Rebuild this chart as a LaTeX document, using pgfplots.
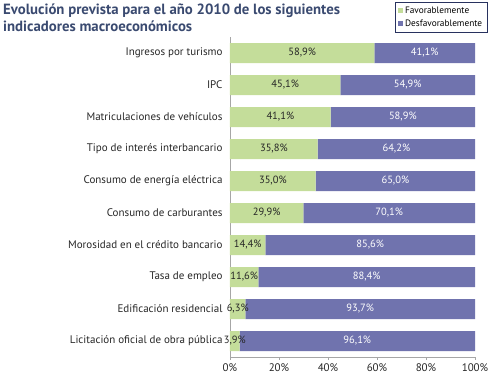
\documentclass[border=0pt]{standalone}
\usepackage{fontspec}
\setmainfont{PT Sans}
\usepackage{pgfplots}
\usepackage{pgfplotstable}
\pgfplotsset{compat=1.18}
\definecolor{favc}{RGB}{196,221,154}
\definecolor{desc}{RGB}{112,115,174}
\definecolor{titc}{RGB}{58,74,112}
\definecolor{legb}{RGB}{40,50,95}
\pgfplotstableread{
cat fav desf
0 58.9 41.1
1 45.1 54.9
2 41.1 58.9
3 35.8 64.2
4 35.0 65.0
5 29.9 70.1
6 14.4 85.6
7 11.6 88.4
8 6.3 93.7
9 3.9 96.1
}\data
\begin{document}
\begin{tikzpicture}
\useasboundingbox (-230bp,-30bp) rectangle (265bp,357bp);
\node[anchor=north west, align=left, text=titc, font=\fontsize{14.8bp}{17bp}\selectfont\bfseries, inner sep=0pt] at (-227bp,353bp)
{Evolución prevista para el año 2010 de los siguientes\\indicadores macroeconómicos};
\begin{axis}[
  at={(0,0)}, anchor=south west,
  scale only axis, width=245bp, height=320bp,
  xbar stacked, bar width=20bp,
  xmin=0, xmax=100, ymin=-0.5, ymax=9.5, y dir=reverse,
  axis x line*=bottom, axis y line*=left,
  axis line style={gray!70},
  /pgf/number format/assume math mode=true,
  ytick={0,...,9},
  yticklabels={Ingresos por turismo, IPC, Matriculaciones de vehículos, Tipo de interés interbancario, Consumo de energía eléctrica, Consumo de carburantes, Morosidad en el crédito bancario, Tasa de empleo, Edificación residencial, Licitación oficial de obra pública},
  yticklabel style={font=\fontsize{11bp}{13bp}\selectfont, text=black!85, xshift=-1bp},
  major y tick style={draw=none},
  extra y ticks={-0.5,0.5,...,9.5},
  extra y tick labels={},
  extra y tick style={major tick style={draw=gray!70}, major tick length=4bp},
  xtick={0,20,...,100},
  xticklabel={\pgfmathprintnumber{\tick}\%},
  xticklabel style={font=\fontsize{11bp}{13bp}\selectfont, text=black!85},
  tick align=outside,
  major x tick style={gray!70},
  major tick length=3bp,
  legend style={at={(axis description cs:0.673,1.11)}, anchor=north west, draw=legb, font=\fontsize{9.3bp}{11bp}\selectfont, inner xsep=3bp, inner ysep=3bp, row sep=0.5bp, cells={anchor=west}},
  legend image code/.code={\fill[#1] (0bp,-2.5bp) rectangle (5bp,2.5bp);},
]
\addplot[fill=favc, draw=none] table[x=fav, y=cat] {\data};
\addlegendentry{Favorablemente}
\addplot[fill=desc, draw=none] table[x=desf, y=cat] {\data};
\addlegendentry{Desfavorablemente}
\end{axis}
\begin{axis}[
  at={(0,0)}, anchor=south west,
  scale only axis, width=245bp, height=320bp,
  xmin=0, xmax=100, ymin=-0.5, ymax=9.5, y dir=reverse,
  hide axis, clip=false,
  /pgf/number format/assume math mode=true,
]
\addplot[draw=none, mark=none, nodes near coords={\pgfmathprintnumber[fixed, fixed zerofill, precision=1, use comma]{\pgfplotspointmeta}\%},
  point meta=explicit, every node near coord/.style={anchor=center, font=\fontsize{10.5bp}{12bp}\selectfont, text=black!85}]
  table[x expr=\thisrow{fav}/2, y=cat, meta=fav] {\data};
\addplot[draw=none, mark=none, nodes near coords={\pgfmathprintnumber[fixed, fixed zerofill, precision=1, use comma]{\pgfplotspointmeta}\%},
  point meta=explicit, every node near coord/.style={anchor=center, font=\fontsize{10.5bp}{12bp}\selectfont, text=white}]
  table[x expr=\thisrow{fav}+\thisrow{desf}/2, y=cat, meta=desf] {\data};
\end{axis}
\end{tikzpicture}
\end{document}
